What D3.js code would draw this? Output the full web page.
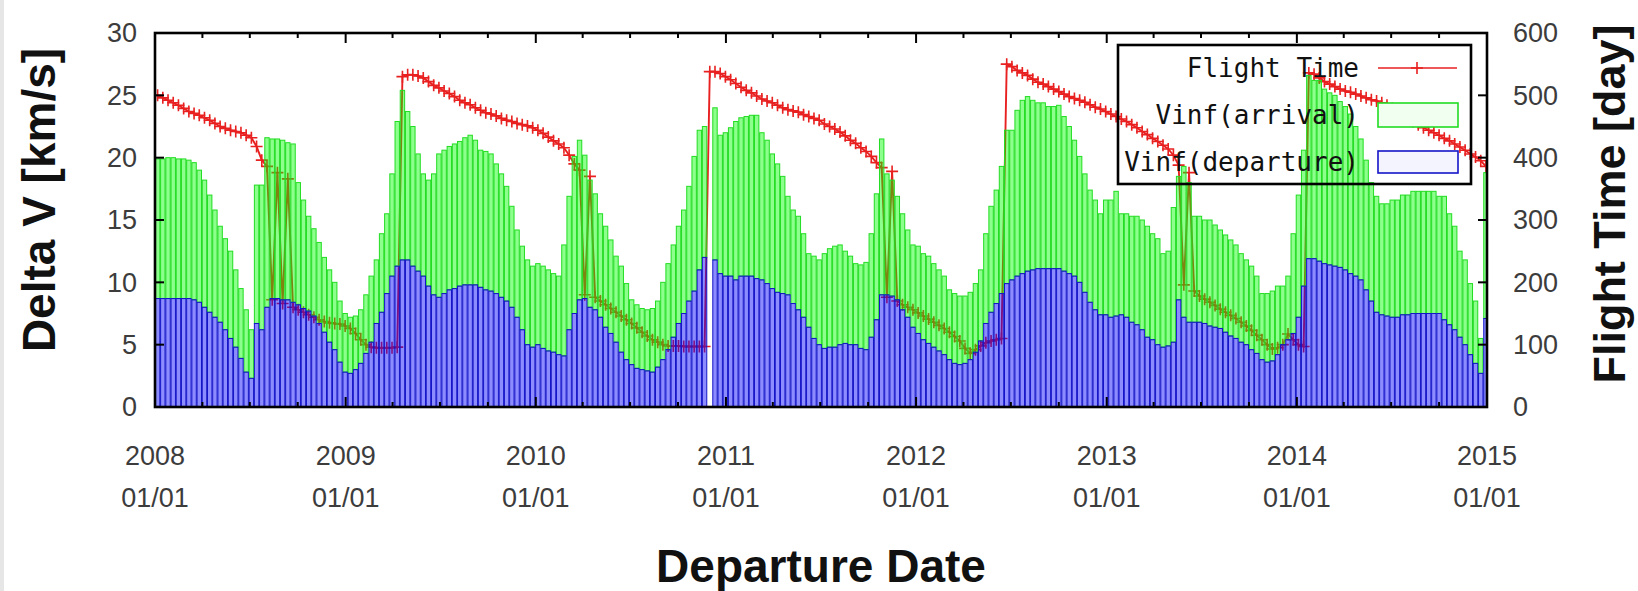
<!DOCTYPE html>
<html>
<head>
<meta charset="utf-8">
<script src="https://cdn.jsdelivr.net/npm/d3@7"></script>
<style>
    html, body { margin: 0; padding: 0; background: #ffffff; }
    #chart { width: 1638px; height: 591px; }
    .tickLabel { font-family: "Liberation Sans", Arial, sans-serif; font-size: 27px; fill: #3c3c3c; }
    .axisTitle { font-family: "Liberation Sans", Arial, sans-serif; font-size: 46px; font-weight: bold; fill: #111111; }
    .legendText { font-family: "DejaVu Sans Mono", monospace; font-size: 26px; fill: #111111; }
</style>
</head>
<body>
<div id="chart"></div>
<script>
//
// Delta V / flight time chart (gnuplot look)
//

const _svgWidth = 1638;
const _svgHeight = 591;
const _plotLeft = 155;
const _plotRight = 1487;
const _plotTop = 33;
const _plotBottom = 407;

// departure dates: one box every 10 days from 2008/01/01
var startDate = new Date(2008, 0, 1);
var endDate = new Date(2015, 0, 1);
var stepDays = 10;

var xTickYears = [2008, 2009, 2010, 2011, 2012, 2013, 2014, 2015];
var yTicksLeft = [0, 5, 10, 15, 20, 25, 30];
var yTicksRight = [0, 100, 200, 300, 400, 500, 600];
var legendLabels = ['Flight Time', 'Vinf(arrival)', 'Vinf(departure)'];

// Vinf at departure [km/s] (null = no solution)
var departureDV = [
    8.7, 8.7, 8.7, 8.7, 8.7, 8.7, 8.7, 8.6, 8.4, 8.0,
    7.6, 7.2, 6.8, 6.2, 5.5, 4.8, 3.9, 2.8, 2.3, 6.7,
    6.2, 8.0, 8.7, 8.7, 8.6, 8.6, 8.4, 8.2, 7.9, 7.7,
    7.3, 6.7, 6.0, 5.2, 4.6, 3.6, 2.8, 2.7, 3.0, 3.5,
    4.3, 5.2, 6.7, 7.6, 9.1, 10.5, 11.3, 11.8, 11.8, 11.3,
    10.9, 10.5, 9.7, 9.0, 8.8, 9.1, 9.4, 9.5, 9.7, 9.8,
    9.8, 9.8, 9.6, 9.4, 9.3, 9.1, 8.8, 8.5, 8.0, 7.2,
    6.2, 5.0, 4.8, 5.0, 4.7, 4.5, 4.4, 4.2, 4.1, 6.2,
    7.5, 8.6, 8.7, 8.0, 7.8, 7.2, 6.4, 5.9, 5.2, 4.4,
    3.8, 3.4, 3.1, 3.0, 2.9, 2.8, 3.2, 3.8, 4.6, 5.6,
    6.7, 7.5, 8.5, 9.3, 11.0, 12.0, null, 11.8, 10.7, 10.5,
    10.5, 10.2, 10.5, 10.5, 10.5, 10.3, 10.2, 9.9, 9.5, 9.2,
    9.1, 9.0, 8.3, 7.8, 7.2, 6.4, 5.5, 5.0, 4.7, 4.8,
    4.8, 5.0, 5.1, 5.0, 5.0, 4.7, 4.6, 5.6, 7.0, 9.0,
    9.0, 8.9, 8.6, 7.8, 7.2, 6.4, 5.9, 5.4, 5.1, 4.8,
    4.5, 4.2, 3.8, 3.5, 3.4, 3.5, 3.8, 4.4, 5.3, 6.7,
    7.6, 8.3, 9.1, 9.9, 10.2, 10.5, 10.7, 10.9, 11.0, 11.1,
    11.1, 11.1, 11.1, 11.1, 10.9, 10.7, 10.5, 10.0, 9.2, 8.4,
    7.8, 7.4, 7.4, 7.2, 7.3, 7.4, 7.2, 6.8, 6.6, 6.2,
    5.6, 5.4, 5.0, 4.8, 4.9, 5.2, 8.6, 7.2, 6.8, 6.8,
    6.8, 6.7, 6.5, 6.4, 6.3, 6.0, 5.7, 5.5, 5.2, 5.0,
    4.6, 4.3, 3.8, 3.6, 3.7, 4.2, 5.0, 5.4, 5.9, 7.2,
    9.7, 11.9, 11.9, 11.7, 11.5, 11.4, 11.3, 11.2, 11.0, 10.7,
    10.5, 10.2, 9.4, 8.5, 7.6, 7.4, 7.3, 7.2, 7.2, 7.4,
    7.4, 7.5, 7.5, 7.5, 7.5, 7.5, 7.5, 7.0, 6.6, 6.2,
    5.6, 5.0, 4.2, 3.5, 2.7, 7.1
];

// top of the stacked box = Vinf(departure) + Vinf(arrival) [km/s]
var totalDV = [
    19.9, 19.9, 20.0, 20.0, 19.9, 19.9, 19.8, 19.6, 19.0, 18.2,
    17.0, 15.8, 14.5, 13.5, 12.5, 11.0, 9.5, 7.8, 6.2, 17.8,
    17.8, 21.6, 21.5, 21.5, 21.4, 21.2, 21.1, 18.0, 16.6, 15.3,
    14.3, 13.2, 12.0, 11.0, 10.0, 8.5, 7.5, 7.2, 7.3, 7.8,
    9.0, 10.5, 11.8, 13.9, 15.5, 18.7, 22.9, 25.4, 23.7, 22.5,
    20.3, 18.7, 18.2, 18.7, 20.3, 20.6, 20.9, 21.1, 21.3, 21.6,
    21.8, 21.4, 20.6, 20.5, 20.3, 19.5, 18.7, 17.7, 16.1, 14.2,
    12.9, 11.8, 11.3, 11.5, 11.3, 11.0, 10.7, 10.5, 13.0, 16.9,
    20.1, 21.4, 20.2, 18.2, 17.1, 15.5, 14.5, 13.4, 12.1, 11.3,
    9.9, 8.6, 8.2, 7.9, 7.8, 7.9, 8.5, 10.0, 11.5, 13.0,
    14.5, 15.8, 17.7, 20.1, 22.2, 22.5, null, 24.0, 21.8, 22.0,
    22.4, 22.9, 23.2, 23.3, 23.4, 23.4, 22.0, 21.4, 20.3, 19.5,
    18.5, 16.9, 15.8, 15.3, 13.9, 12.3, 12.1, 11.8, 12.3, 12.7,
    12.9, 13.0, 12.5, 12.1, 11.5, 11.4, 11.6, 13.9, 17.1, 21.5,
    18.7, 18.2, 16.9, 15.5, 14.2, 13.0, 12.9, 12.3, 12.1, 11.5,
    11.0, 10.5, 9.4, 9.1, 8.9, 8.9, 9.2, 9.9, 11.0, 13.9,
    16.1, 17.4, 19.3, 22.2, 22.2, 23.8, 24.6, 24.9, 24.6, 24.4,
    24.4, 24.1, 24.1, 24.2, 23.3, 22.5, 21.4, 20.1, 18.7, 17.4,
    16.6, 15.5, 16.6, 16.6, 17.3, 15.5, 15.5, 15.3, 15.3, 15.0,
    14.5, 13.9, 13.5, 12.3, 12.5, 16.0, 18.5, 19.3, 18.0, 15.3,
    15.3, 15.0, 15.0, 14.6, 14.2, 13.8, 13.4, 13.0, 12.3, 11.8,
    11.3, 10.5, 9.1, 9.1, 9.3, 9.7, 9.7, 10.5, 13.9, 17.0,
    20.6, 26.6, 26.2, 26.2, 25.5, 25.2, 25.0, 24.5, 24.1, 23.5,
    22.5, 21.5, 19.8, 18.0, 16.9, 16.3, 16.3, 16.6, 16.6, 17.0,
    17.0, 17.3, 17.3, 17.3, 17.3, 17.3, 16.9, 16.9, 15.5, 14.5,
    12.5, 11.8, 9.9, 8.5, 5.5, 18.8
];

// flight time [day], right axis
var flightDays = [
    500, 496, 492, 488, 484, 479, 474, 471, 468, 464,
    460, 455, 450, 447, 444, 442, 440, 436, 432, 418,
    396, 386, 172, 376, 166, 366, 160, 156, 152, 148,
    144, 140, 137, 135, 134, 133, 130, 126, 118, 108,
    100, 96, 95, 95, 95, 95, 96, 530, 533, 533,
    531, 528, 522, 516, 512, 507, 503, 498, 492, 488,
    485, 480, 476, 472, 470, 467, 463, 460, 458, 455,
    453, 451, 448, 444, 439, 433, 427, 422, 416, 404,
    390, 380, 180, 370, 176, 170, 164, 158, 152, 146,
    140, 134, 127, 120, 114, 108, 104, 100, 98, 98,
    98, 97, 97, 97, 97, 97, 538, 538, 535, 530,
    525, 519, 513, 508, 504, 499, 494, 491, 488, 484,
    480, 477, 475, 473, 469, 466, 463, 460, 454, 450,
    446, 441, 435, 428, 423, 416, 410, 402, 392, 384,
    176, 378, 170, 164, 160, 156, 151, 146, 141, 136,
    131, 126, 120, 113, 106, 94, 86, 92, 98, 103,
    106, 108, 110, 550, 546, 540, 536, 532, 526, 521,
    518, 514, 510, 506, 502, 498, 495, 492, 489, 485,
    481, 478, 474, 470, 466, 462, 458, 453, 448, 442,
    437, 431, 426, 420, 414, 404, 388, 196, 376, 186,
    178, 173, 168, 163, 157, 152, 147, 142, 136, 130,
    123, 115, 108, 100, 93, 95, 100, 117, 108, 100,
    97, 536, 534, 528, 522, 518, 514, 510, 507, 505,
    502, 499, 496, 493, 491, 488, 484, 479, 474, 469,
    463, 458, 453, 448, 444, 440, 436, 431, 427, 422,
    417, 412, 406, 401, 395, 386
];

var _red = '#e82020';
var _green = 'rgb(0,255,0)';
var _greenLine = '#22dd22';
var _blue = 'rgb(0,0,255)';
var _blueLine = '#1414c8';

function buildRows() {
    var rows = [];
    for (i = 0; i < departureDV.length; i++) {
        var d0 = d3.timeDay.offset(startDate, i * stepDays);
        rows.push({
            'date': d0,
            'end': d3.timeDay.offset(d0, stepDays),
            'mid': d3.timeHour.offset(d0, stepDays * 12),
            'departure': departureDV[i],
            'arrival': departureDV[i] == null ? null : totalDV[i] - departureDV[i],
            'flight': flightDays[i]
        });
    }
    return rows;
}

function drawChart(divName) {
    var rows = buildRows();

    var svg = d3.select('#' + divName)
        .append('svg')
        .attr('width', _svgWidth)
        .attr('height', _svgHeight);

    svg.append('rect').attr('width', _svgWidth).attr('height', _svgHeight).attr('fill', '#ffffff');
    svg.append('rect').attr('width', 4).attr('height', _svgHeight).attr('fill', '#e6e6e6');

    svg.append('clipPath').attr('id', 'plotClip')
        .append('rect')
        .attr('x', _plotLeft).attr('y', _plotTop)
        .attr('width', _plotRight - _plotLeft).attr('height', _plotBottom - _plotTop);

    var x = d3.scaleTime().domain([startDate, endDate]).range([_plotLeft, _plotRight]);
    var y = d3.scaleLinear().domain([0, 30]).range([_plotBottom, _plotTop]);
    var y2 = d3.scaleLinear().domain([0, 600]).range([_plotBottom, _plotTop]);

    var plot = svg.append('g').attr('clip-path', 'url(#plotClip)');

    // flight time first, the boxes are see-through on top of it
    var line = d3.line()
        .x(function (d) { return x(d.mid); })
        .y(function (d) { return y2(d.flight); });

    plot.append('path')
        .datum(rows)
        .attr('d', line)
        .attr('fill', 'none')
        .attr('stroke', _red)
        .attr('stroke-width', 1.9);

    plot.append('g')
        .selectAll('path')
        .data(rows)
        .enter()
        .append('path')
        .attr('transform', function (d) { return 'translate(' + x(d.mid) + ',' + y2(d.flight) + ')'; })
        .attr('d', 'M-6,0H6M0,-6V6')
        .attr('stroke', _red)
        .attr('stroke-width', 1.6);

    var series = d3.stack()
        .keys(['departure', 'arrival'])
        .value(function (d, key) { return d[key] == null ? 0 : d[key]; })(rows);

    var boxStyle = [
        { fill: _blue, line: _blueLine },
        { fill: _green, line: _greenLine }
    ];

    // arrival (upper) boxes, then departure boxes
    [1, 0].forEach(function (k) {
        plot.append('g')
            .selectAll('rect')
            .data(series[k].filter(function (s) { return s.data.departure != null; }))
            .enter()
            .append('rect')
            .attr('x', function (s) { return x(s.data.date) + 0.4; })
            .attr('width', function (s) { return x(s.data.end) - x(s.data.date) - 0.8; })
            .attr('y', function (s) { return y(s[1]); })
            .attr('height', function (s) { return y(s[0]) - y(s[1]); })
            .attr('fill', boxStyle[k].fill)
            .attr('fill-opacity', 0.45)
            .attr('stroke', boxStyle[k].line)
            .attr('stroke-width', 1);
    });

    // ticks (inside, in front)
    var ticks = svg.append('g').attr('stroke', '#000000').attr('stroke-width', 2);
    var yearDates = xTickYears.map(function (yr) { return new Date(yr, 0, 1); });
    var quarterDates = d3.timeMonth.every(3).range(startDate, endDate)
        .filter(function (d) { return d.getMonth() != 0; });

    yearDates.forEach(function (d) {
        ticks.append('line').attr('x1', x(d)).attr('x2', x(d)).attr('y1', _plotBottom).attr('y2', _plotBottom - 10);
        ticks.append('line').attr('x1', x(d)).attr('x2', x(d)).attr('y1', _plotTop).attr('y2', _plotTop + 10);
    });
    quarterDates.forEach(function (d) {
        ticks.append('line').attr('x1', x(d)).attr('x2', x(d)).attr('y1', _plotBottom).attr('y2', _plotBottom - 5);
        ticks.append('line').attr('x1', x(d)).attr('x2', x(d)).attr('y1', _plotTop).attr('y2', _plotTop + 5);
    });
    yTicksLeft.forEach(function (v) {
        ticks.append('line').attr('x1', _plotLeft).attr('x2', _plotLeft + 9).attr('y1', y(v)).attr('y2', y(v));
    });
    yTicksRight.forEach(function (v) {
        ticks.append('line').attr('x1', _plotRight).attr('x2', _plotRight - 9).attr('y1', y2(v)).attr('y2', y2(v));
    });

    svg.append('rect')
        .attr('x', _plotLeft).attr('y', _plotTop)
        .attr('width', _plotRight - _plotLeft).attr('height', _plotBottom - _plotTop)
        .attr('fill', 'none')
        .attr('stroke', '#000000')
        .attr('stroke-width', 2.6);

    // tick labels
    svg.append('g').selectAll('text')
        .data(yTicksLeft).enter().append('text')
        .attr('class', 'tickLabel')
        .attr('x', 137).attr('y', function (v) { return y(v); })
        .attr('dy', '0.35em')
        .style('text-anchor', 'end')
        .text(function (v) { return v; });

    svg.append('g').selectAll('text')
        .data(yTicksRight).enter().append('text')
        .attr('class', 'tickLabel')
        .attr('x', 1513).attr('y', function (v) { return y2(v); })
        .attr('dy', '0.35em')
        .style('text-anchor', 'start')
        .text(function (v) { return v; });

    var xLabels = svg.append('g').selectAll('g')
        .data(yearDates).enter().append('g')
        .attr('transform', function (d) { return 'translate(' + x(d) + ',0)'; });
    xLabels.append('text')
        .attr('class', 'tickLabel').attr('y', 465)
        .style('text-anchor', 'middle')
        .text(function (d) { return d3.timeFormat('%Y')(d); });
    xLabels.append('text')
        .attr('class', 'tickLabel').attr('y', 507)
        .style('text-anchor', 'middle')
        .text(function (d) { return d3.timeFormat('%m/%d')(d); });

    // axis titles
    svg.append('text')
        .attr('class', 'axisTitle')
        .attr('transform', 'translate(39,200) rotate(-90)')
        .attr('dy', '0.35em')
        .style('text-anchor', 'middle')
        .text('Delta V [km/s]');

    svg.append('text')
        .attr('class', 'axisTitle')
        .attr('transform', 'translate(1609,204) rotate(-90)')
        .attr('dy', '0.35em')
        .style('text-anchor', 'middle')
        .style('font-size', '45px')
        .text('Flight Time [day]');

    svg.append('text')
        .attr('class', 'axisTitle')
        .attr('x', (_plotLeft + _plotRight) / 2).attr('y', 582)
        .style('text-anchor', 'middle')
        .text('Departure Date');

    createLegend(svg);
}

function createLegend(svg) {
    var legend = svg.append('g').attr('class', 'legend');
    var rowY = [68, 115, 162];

    legend.append('rect')
        .attr('x', 1118).attr('y', 45)
        .attr('width', 353).attr('height', 139)
        .attr('fill', 'none')
        .attr('stroke', '#000000')
        .attr('stroke-width', 2.6);

    legend.selectAll('text')
        .data(legendLabels).enter().append('text')
        .attr('class', 'legendText')
        .attr('x', 1359)
        .attr('y', function (d, idx) { return rowY[idx] + 9; })
        .style('text-anchor', 'end')
        .text(function (d) { return d; });

    legend.append('line')
        .attr('x1', 1378).attr('x2', 1457).attr('y1', rowY[0]).attr('y2', rowY[0])
        .attr('stroke', _red).attr('stroke-width', 1.6);
    legend.append('path')
        .attr('d', 'M1411,' + rowY[0] + 'H1423M1417,' + (rowY[0] - 6) + 'V' + (rowY[0] + 6))
        .attr('stroke', _red).attr('stroke-width', 1.6);

    legend.append('rect')
        .attr('x', 1378).attr('y', rowY[1] - 12).attr('width', 80).attr('height', 24)
        .attr('fill', '#f0fff0').attr('stroke', _greenLine).attr('stroke-width', 1.6);
    legend.append('rect')
        .attr('x', 1378).attr('y', rowY[2] - 11).attr('width', 80).attr('height', 22)
        .attr('fill', '#f4f4ff').attr('stroke', _blueLine).attr('stroke-width', 1.6);
}

drawChart('chart');
</script>
</body>
</html>
